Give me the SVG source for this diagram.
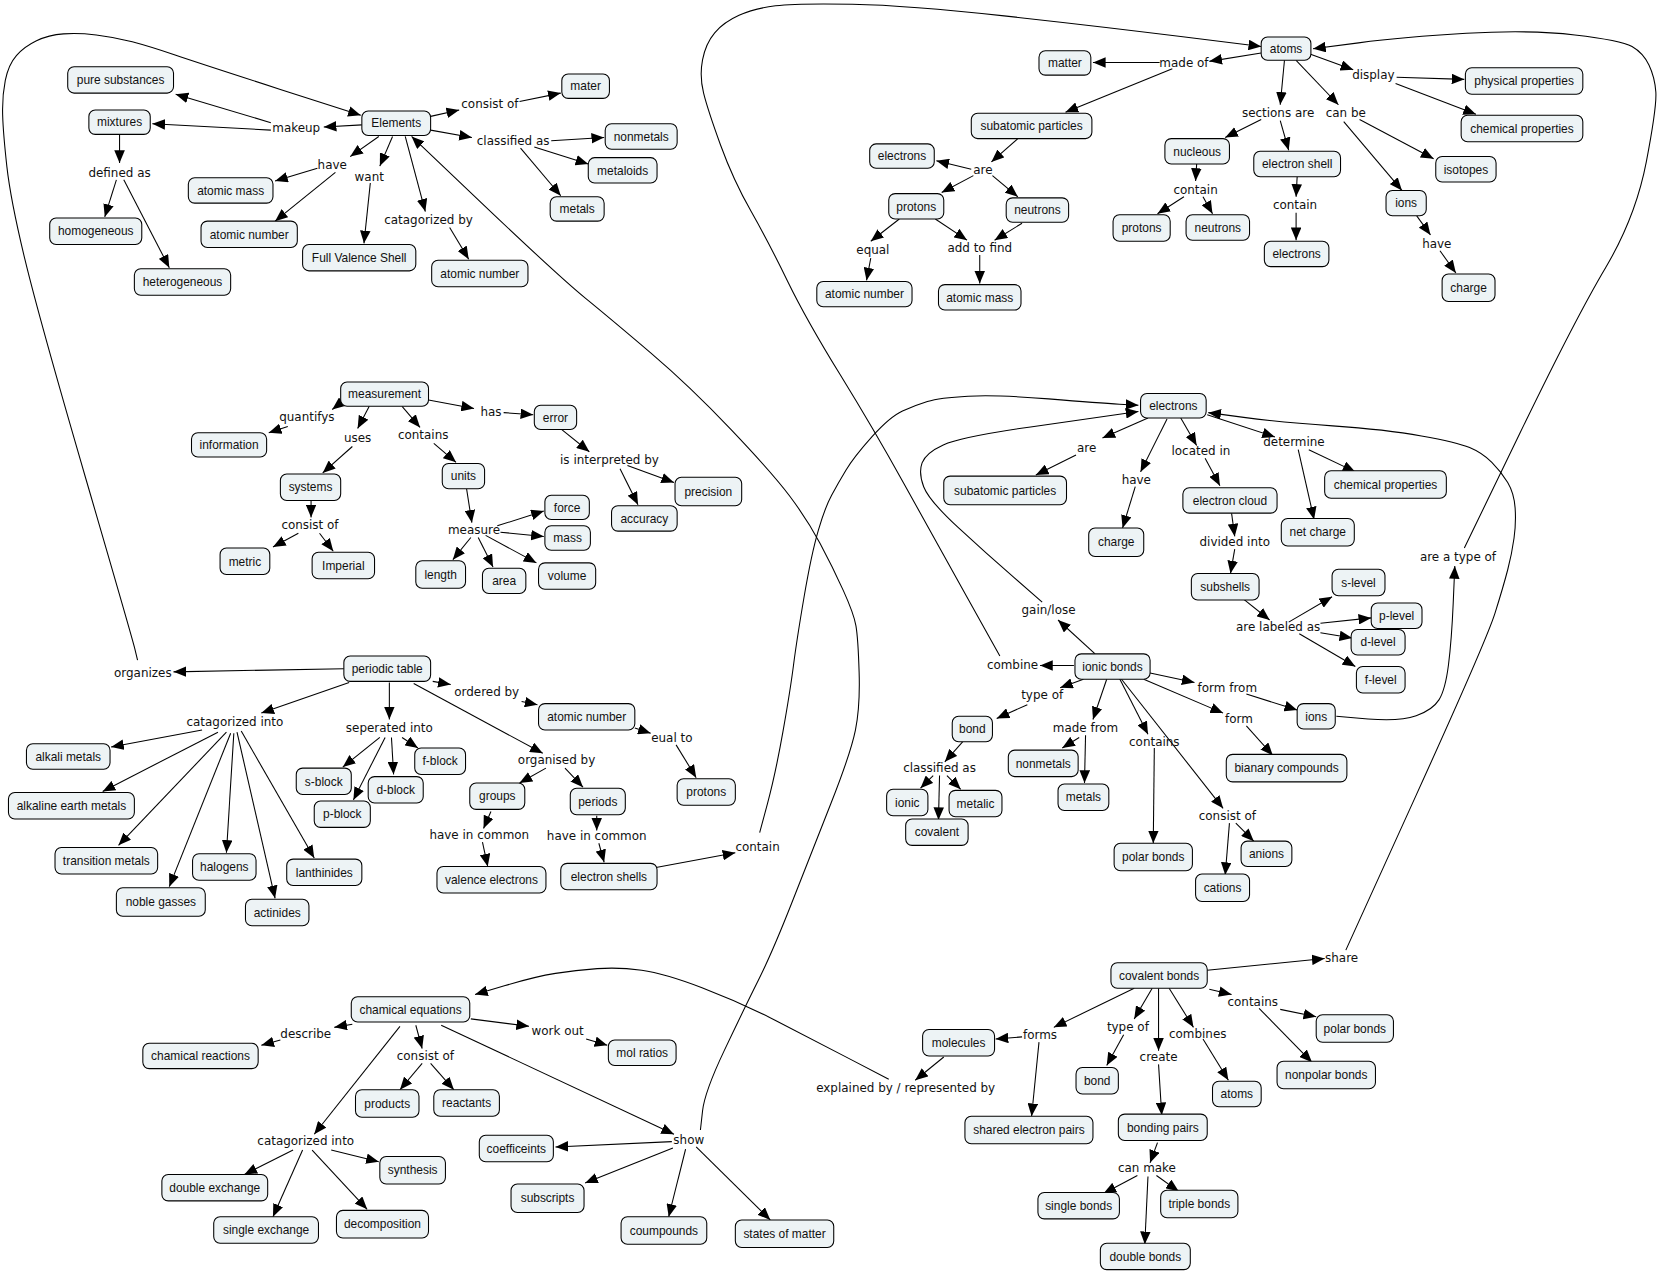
<svg xmlns="http://www.w3.org/2000/svg" width="1659" height="1272" viewBox="0 0 1659 1272">
<style>
.n rect{fill:#edf3f5;stroke:#000;stroke-width:1}
.n text{font-family:"Liberation Sans",Arial,sans-serif;font-size:11.3px;fill:#111;text-anchor:middle}
.l text{font-family:"DejaVu Sans",Verdana,sans-serif;font-size:11.3px;fill:#111;text-anchor:middle}
.c path{fill:none;stroke:#000;stroke-width:1;stroke-linejoin:round;marker-end:url(#a)}
</style>
<defs>
<marker id="a" markerUnits="userSpaceOnUse" markerWidth="12" markerHeight="10" refX="12" refY="5" orient="auto" viewBox="0 0 12 10"><path d="M0,0 L12,5 L0,10 z" fill="#000"/></marker>
</defs>
<rect width="1659" height="1272" fill="#fff"/>
<g transform="scale(1.05804)">
<g id="connectors" class="c">
<path d="M342,118 L306,120"/>
<path d="M256,116 L166,89"/>
<path d="M256,123 L144,117"/>
<path d="M407,110 L434,104"/>
<path d="M491,96 L530,88"/>
<path d="M407,123 L446,130"/>
<path d="M521,133 L571,130"/>
<path d="M505,139 L556,155"/>
<path d="M492,140 L530,185"/>
<path d="M358,129 L331,148"/>
<path d="M300,159 L260,171"/>
<path d="M317,163 L260,209"/>
<path d="M371,129 L359,157"/>
<path d="M350,173 L344,230"/>
<path d="M383,129 L402,200"/>
<path d="M425,215 L443,245"/>
<path d="M113,127 L113,154"/>
<path d="M110,170 L99,205"/>
<path d="M117,170 L160,253"/>
<path d="M1192,50 L1143,58"/>
<path d="M1096,59 L1033,59"/>
<path d="M1108,65 L1007,106"/>
<path d="M962,131 L937,153"/>
<path d="M918,160 L885,152"/>
<path d="M920,166 L890,182"/>
<path d="M938,166 L962,186"/>
<path d="M850,207 L823,228"/>
<path d="M823,244 L819,265"/>
<path d="M884,207 L914,227"/>
<path d="M966,211 L940,227"/>
<path d="M926,241 L926,268"/>
<path d="M1238,51 L1279,66"/>
<path d="M1320,73 L1384,75"/>
<path d="M1319,79 L1395,108"/>
<path d="M1214,57 L1210,99"/>
<path d="M1192,113 L1158,130"/>
<path d="M1210,114 L1218,142"/>
<path d="M1225,57 L1265,99"/>
<path d="M1285,113 L1355,150"/>
<path d="M1270,115 L1325,180"/>
<path d="M1131,155 L1130,171"/>
<path d="M1119,186 L1094,202"/>
<path d="M1137,186 L1146,202"/>
<path d="M1226,167 L1225,186"/>
<path d="M1225,201 L1225,227"/>
<path d="M1339,204 L1352,222"/>
<path d="M1361,237 L1376,258"/>
<path d="M323,380 L314,387"/>
<path d="M272,403 L254,409"/>
<path d="M349,384 L338,405"/>
<path d="M333,422 L305,447"/>
<path d="M380,384 L397,404"/>
<path d="M410,419 L431,437"/>
<path d="M405,378 L448,386"/>
<path d="M476,390 L504,392"/>
<path d="M531,406 L557,427"/>
<path d="M593,440 L637,456"/>
<path d="M586,443 L603,477"/>
<path d="M294,473 L294,489"/>
<path d="M282,504 L258,517"/>
<path d="M302,504 L315,521"/>
<path d="M441,462 L446,494"/>
<path d="M470,497 L514,483"/>
<path d="M473,503 L514,507"/>
<path d="M445,508 L428,529"/>
<path d="M452,508 L466,536"/>
<path d="M459,506 L507,532"/>
<path d="M325,632 L164,635"/>
<path d="M330,645 L247,674"/>
<path d="M191,690 L105,706"/>
<path d="M206,692 L97,748"/>
<path d="M214,692 L112,799"/>
<path d="M218,693 L160,838"/>
<path d="M221,693 L214,806"/>
<path d="M224,692 L260,849"/>
<path d="M228,691 L297,811"/>
<path d="M368,645 L368,680"/>
<path d="M359,697 L324,725"/>
<path d="M364,697 L334,756"/>
<path d="M370,697 L372,732"/>
<path d="M380,697 L395,707"/>
<path d="M409,644 L426,647"/>
<path d="M493,663 L508,666"/>
<path d="M391,646 L513,712"/>
<path d="M516,726 L491,740"/>
<path d="M534,726 L551,744"/>
<path d="M600,688 L615,693"/>
<path d="M639,704 L658,735"/>
<path d="M464,767 L457,783"/>
<path d="M456,796 L461,819"/>
<path d="M564,771 L564,785"/>
<path d="M566,797 L571,815"/>
<path d="M620,820 L695,806"/>
<path d="M1085,395 L1042,414"/>
<path d="M1017,430 L979,449"/>
<path d="M1103,396 L1078,446"/>
<path d="M1073,460 L1061,499"/>
<path d="M1116,395 L1131,421"/>
<path d="M1139,433 L1153,459"/>
<path d="M1141,392 L1205,413"/>
<path d="M1237,425 L1281,446"/>
<path d="M1227,425 L1242,491"/>
<path d="M1164,485 L1167,507"/>
<path d="M1167,519 L1163,542"/>
<path d="M1175,566 L1200,586"/>
<path d="M1218,588 L1259,564"/>
<path d="M1248,589 L1296,584"/>
<path d="M1248,598 L1278,603"/>
<path d="M1228,599 L1281,630"/>
<path d="M1035,618 L1000,586"/>
<path d="M1015,629 L983,629"/>
<path d="M1024,642 L1002,650"/>
<path d="M971,666 L942,679"/>
<path d="M910,701 L893,720"/>
<path d="M882,733 L870,745"/>
<path d="M888,733 L887,775"/>
<path d="M895,733 L908,746"/>
<path d="M1046,642 L1033,680"/>
<path d="M1020,697 L1004,707"/>
<path d="M1026,695 L1025,740"/>
<path d="M1058,641 L1085,694"/>
<path d="M1091,707 L1090,797"/>
<path d="M1060,642 L1156,764"/>
<path d="M1168,778 L1185,795"/>
<path d="M1162,778 L1158,827"/>
<path d="M1087,636 L1129,645"/>
<path d="M1178,656 L1226,671"/>
<path d="M1081,642 L1156,674"/>
<path d="M1178,686 L1203,714"/>
<path d="M1141,917 L1252,906"/>
<path d="M1143,935 L1164,940"/>
<path d="M1210,954 L1244,961"/>
<path d="M1190,953 L1240,1004"/>
<path d="M1089,934 L1072,963"/>
<path d="M1062,978 L1046,1007"/>
<path d="M1095,934 L1095,993"/>
<path d="M1095,1006 L1098,1054"/>
<path d="M1105,934 L1128,971"/>
<path d="M1137,982 L1161,1021"/>
<path d="M1094,1080 L1087,1099"/>
<path d="M1075,1111 L1043,1128"/>
<path d="M1093,1111 L1114,1126"/>
<path d="M1085,1112 L1082,1176"/>
<path d="M1072,934 L996,971"/>
<path d="M966,980 L941,982"/>
<path d="M982,985 L975,1055"/>
<path d="M892,999 L865,1021"/>
<path d="M333,968 L316,971"/>
<path d="M265,983 L247,988"/>
<path d="M393,969 L399,991"/>
<path d="M399,1005 L378,1030"/>
<path d="M407,1005 L429,1030"/>
<path d="M445,963 L500,970"/>
<path d="M554,982 L574,988"/>
<path d="M378,970 L297,1072"/>
<path d="M277,1087 L231,1110"/>
<path d="M286,1087 L258,1150"/>
<path d="M295,1087 L347,1143"/>
<path d="M313,1087 L358,1098"/>
<path d="M417,969 L637,1072"/>
<path d="M635,1079 L525,1084"/>
<path d="M636,1085 L553,1118"/>
<path d="M648,1086 L632,1150"/>
<path d="M658,1084 L728,1153"/>
<path d="M130,624 L127.5,613.5 Q125,603 81,452 Q37,301 23.5,245 Q10,189 6.5,157.5 Q3,126 2.5,108.5 Q2,91 5,76 Q8,61 15.5,52.5 Q23,44 34.5,38.5 Q46,33 60,32 Q74,31 91,33 Q108,35 125,39.5 Q142,44 165.5,52 Q189,60 265,84.5 L341,109"/>
<path d="M662,1068 L664,1050 Q666,1032 684.5,993 Q703,954 716.5,927 Q730,900 748.5,853 Q767,806 785.5,759 Q804,712 808.5,690 Q813,668 812,635.5 Q811,603 809,591.5 Q807,580 797,558 Q787,536 775,513.5 Q763,491 746.5,469 Q730,447 691,406 Q652,365 615,333.5 Q578,302 553.5,282 Q529,262 459,195.5 L389,129"/>
<path d="M718,787 L725.5,759 Q733,731 740,691.5 Q747,652 750,628.5 Q753,605 760,564 Q767,523 773.5,501 Q780,479 786,468 Q792,457 799.5,444.5 Q807,432 824,413 Q841,394 853,388.5 Q865,383 876.5,379.5 Q888,376 915,374.5 Q942,373 991,377 Q1040,381 1058,382 L1076,383"/>
<path d="M985,569 L958.5,546 Q932,523 905,498 Q878,473 873,460 Q868,447 871.5,437.5 Q875,428 891.5,420.5 Q908,413 974,403.5 Q1040,394 1058,391.5 L1076,389"/>
<path d="M1272,898 L1338.5,751.5 Q1405,605 1413,579.5 Q1421,554 1425,538.5 Q1429,523 1431,508.5 Q1433,494 1432,480 Q1431,466 1425,456 Q1419,446 1410,437 Q1401,428 1389,423 Q1377,418 1343.5,412 Q1310,406 1259.5,402.5 Q1209,399 1175.5,394.5 L1142,390"/>
<path d="M945,620 L913.5,563.5 Q882,507 854,456.5 Q826,406 794,354 Q762,302 744.5,266 Q727,230 710,200 Q693,170 681,137 Q669,104 665,88 Q661,72 664,56.5 Q667,41 675.5,31 Q684,21 698.5,14.5 Q713,8 733,5.5 Q753,3 805.5,4 Q858,5 949,15 Q1040,25 1116,34.5 L1192,44"/>
<path d="M1384,518 L1436.5,409.5 Q1489,301 1517.5,253 Q1546,205 1556,153 Q1566,101 1565,87 Q1564,73 1558.5,61.5 Q1553,50 1542.5,44 Q1532,38 1488.5,33 Q1445,28 1386,31.5 Q1327,35 1284,40.5 L1241,46"/>
<path d="M1263,677 L1293,679.5 Q1323,682 1338.5,676.5 Q1354,671 1360,661.5 Q1366,652 1369,628.5 Q1372,605 1373.5,570 L1375,535"/>
<path d="M840,1020 L803.5,1001 Q767,982 733,964.5 Q699,947 663.5,933.5 Q628,920 606.5,917 Q585,914 564.5,915.5 Q544,917 525,920 Q506,923 477.5,931.5 L449,940"/>
</g>
<g id="link-labels" class="l">
<text x="280" y="125">makeup</text>
<text x="463" y="102">consist of</text>
<text x="485" y="137">classified as</text>
<text x="314" y="160">have</text>
<text x="349" y="171">want</text>
<text x="405" y="212">catagorized by</text>
<text x="113" y="167">defined as</text>
<text x="1119" y="63">made of</text>
<text x="929" y="164">are</text>
<text x="825" y="240">equal</text>
<text x="926" y="238">add to find</text>
<text x="1298" y="75">display</text>
<text x="1208" y="111">sections are</text>
<text x="1272" y="111">can be</text>
<text x="1130" y="183">contain</text>
<text x="1224" y="198">contain</text>
<text x="1358" y="234">have</text>
<text x="290" y="398">quantifys</text>
<text x="338" y="418">uses</text>
<text x="400" y="415">contains</text>
<text x="464" y="393">has</text>
<text x="576" y="439">is interpreted by</text>
<text x="293" y="500">consist of</text>
<text x="448" y="505">measure</text>
<text x="135" y="640">organizes</text>
<text x="460" y="658">ordered by</text>
<text x="635" y="701">eual to</text>
<text x="526" y="722">organised by</text>
<text x="453" y="793">have in common</text>
<text x="564" y="794">have in common</text>
<text x="716" y="804">contain</text>
<text x="222" y="686">catagorized into</text>
<text x="368" y="692">seperated into</text>
<text x="1027" y="427">are</text>
<text x="1074" y="457">have</text>
<text x="1135" y="430">located in</text>
<text x="1223" y="422">determine</text>
<text x="1167" y="516">divided into</text>
<text x="1208" y="596">are labeled as</text>
<text x="1378" y="530">are a type of</text>
<text x="991" y="580">gain/lose</text>
<text x="957" y="632">combine</text>
<text x="985" y="661">type of</text>
<text x="888" y="730">classified as</text>
<text x="1026" y="692">made from</text>
<text x="1091" y="705">contains</text>
<text x="1160" y="775">consist of</text>
<text x="1160" y="654">form from</text>
<text x="1171" y="683">form</text>
<text x="1268" y="909">share</text>
<text x="1184" y="951">contains</text>
<text x="1066" y="974">type of</text>
<text x="1095" y="1003">create</text>
<text x="1132" y="981">combines</text>
<text x="1084" y="1108">can make</text>
<text x="983" y="982">forms</text>
<text x="856" y="1032">explained by / represented by</text>
<text x="289" y="981">describe</text>
<text x="402" y="1002">consist of</text>
<text x="527" y="978">work out</text>
<text x="289" y="1082">catagorized into</text>
<text x="651" y="1081">show</text>
</g>
<g id="n-pure" class="n"><rect x="64" y="63" width="100" height="25" rx="6"/><text x="114" y="79.5">pure substances</text></g>
<g id="n-mixtures" class="n"><rect x="84" y="104" width="58" height="23" rx="6"/><text x="113" y="119.5">mixtures</text></g>
<g id="n-elements" class="n"><rect x="342" y="105" width="65" height="23" rx="6"/><text x="374.5" y="120.5">Elements</text></g>
<g id="n-mater" class="n"><rect x="531" y="70" width="45" height="23" rx="6"/><text x="553.5" y="85.5">mater</text></g>
<g id="n-nonmetals1" class="n"><rect x="572" y="117" width="68" height="24" rx="6"/><text x="606" y="133">nonmetals</text></g>
<g id="n-metaloids" class="n"><rect x="556" y="149" width="65" height="24" rx="6"/><text x="588.5" y="165">metaloids</text></g>
<g id="n-metals1" class="n"><rect x="520" y="186" width="51" height="23" rx="6"/><text x="545.5" y="201.5">metals</text></g>
<g id="n-atomicmass1" class="n"><rect x="178" y="168" width="80" height="24" rx="6"/><text x="218" y="184">atomic mass</text></g>
<g id="n-atomicnum1" class="n"><rect x="190" y="209" width="91" height="25" rx="6"/><text x="235.5" y="225.5">atomic number</text></g>
<g id="n-fvs" class="n"><rect x="286" y="231" width="107" height="25" rx="6"/><text x="339.5" y="247.5">Full Valence Shell</text></g>
<g id="n-atomicnum2" class="n"><rect x="408" y="246" width="91" height="25" rx="6"/><text x="453.5" y="262.5">atomic number</text></g>
<g id="n-homog" class="n"><rect x="47" y="206" width="87" height="25" rx="6"/><text x="90.5" y="222.5">homogeneous</text></g>
<g id="n-heterog" class="n"><rect x="127" y="254" width="91" height="25" rx="6"/><text x="172.5" y="270.5">heterogeneous</text></g>
<g id="n-matter" class="n"><rect x="982" y="48" width="49" height="23" rx="6"/><text x="1006.5" y="63.5">matter</text></g>
<g id="n-atoms1" class="n"><rect x="1192" y="35" width="47" height="22" rx="6"/><text x="1215.5" y="50">atoms</text></g>
<g id="n-subatomic1" class="n"><rect x="918" y="107" width="114" height="24" rx="6"/><text x="975" y="123">subatomic particles</text></g>
<g id="n-electrons1" class="n"><rect x="822" y="136" width="61" height="23" rx="6"/><text x="852.5" y="151.5">electrons</text></g>
<g id="n-protons1" class="n"><rect x="840" y="183" width="52" height="24" rx="6"/><text x="866" y="199">protons</text></g>
<g id="n-neutrons1" class="n"><rect x="951" y="187" width="59" height="23" rx="6"/><text x="980.5" y="202.5">neutrons</text></g>
<g id="n-atomicnum3" class="n"><rect x="772" y="266" width="90" height="24" rx="6"/><text x="817" y="282">atomic number</text></g>
<g id="n-atomicmass2" class="n"><rect x="887" y="269" width="78" height="24" rx="6"/><text x="926" y="285">atomic mass</text></g>
<g id="n-physprop" class="n"><rect x="1385" y="64" width="111" height="25" rx="6"/><text x="1440.5" y="80.5">physical properties</text></g>
<g id="n-chemprop1" class="n"><rect x="1381" y="109" width="115" height="25" rx="6"/><text x="1438.5" y="125.5">chemical properties</text></g>
<g id="n-nucleous" class="n"><rect x="1101" y="131" width="61" height="24" rx="6"/><text x="1131.5" y="147">nucleous</text></g>
<g id="n-eshell" class="n"><rect x="1185" y="143" width="82" height="24" rx="6"/><text x="1226" y="159">electron shell</text></g>
<g id="n-isotopes" class="n"><rect x="1357" y="148" width="57" height="24" rx="6"/><text x="1385.5" y="164">isotopes</text></g>
<g id="n-protons2" class="n"><rect x="1052" y="203" width="54" height="25" rx="6"/><text x="1079" y="219.5">protons</text></g>
<g id="n-neutrons2" class="n"><rect x="1121" y="203" width="60" height="24" rx="6"/><text x="1151" y="219">neutrons</text></g>
<g id="n-electrons2" class="n"><rect x="1195" y="228" width="61" height="24" rx="6"/><text x="1225.5" y="244">electrons</text></g>
<g id="n-ions1" class="n"><rect x="1310" y="180" width="38" height="24" rx="6"/><text x="1329" y="196">ions</text></g>
<g id="n-charge1" class="n"><rect x="1363" y="259" width="50" height="26" rx="6"/><text x="1388" y="276">charge</text></g>
<g id="n-measurement" class="n"><rect x="322" y="361" width="83" height="23" rx="6"/><text x="363.5" y="376.5">measurement</text></g>
<g id="n-information" class="n"><rect x="181" y="409" width="71" height="23" rx="6"/><text x="216.5" y="424.5">information</text></g>
<g id="n-error" class="n"><rect x="505" y="383" width="40" height="23" rx="6"/><text x="525" y="398.5">error</text></g>
<g id="n-precision" class="n"><rect x="638" y="451" width="63" height="27" rx="6"/><text x="669.5" y="468.5">precision</text></g>
<g id="n-accuracy" class="n"><rect x="578" y="478" width="62" height="24" rx="6"/><text x="609" y="494">accuracy</text></g>
<g id="n-systems" class="n"><rect x="265" y="448" width="57" height="25" rx="6"/><text x="293.5" y="464.5">systems</text></g>
<g id="n-metric" class="n"><rect x="208" y="518" width="47" height="25" rx="6"/><text x="231.5" y="534.5">metric</text></g>
<g id="n-imperial" class="n"><rect x="295" y="522" width="59" height="25" rx="6"/><text x="324.5" y="538.5">Imperial</text></g>
<g id="n-units" class="n"><rect x="418" y="438" width="40" height="24" rx="6"/><text x="438" y="454">units</text></g>
<g id="n-force" class="n"><rect x="515" y="468" width="42" height="23" rx="6"/><text x="536" y="483.5">force</text></g>
<g id="n-mass" class="n"><rect x="515" y="497" width="43" height="23" rx="6"/><text x="536.5" y="512.5">mass</text></g>
<g id="n-length" class="n"><rect x="393" y="530" width="47" height="26" rx="6"/><text x="416.5" y="547">length</text></g>
<g id="n-area" class="n"><rect x="456" y="537" width="41" height="24" rx="6"/><text x="476.5" y="553">area</text></g>
<g id="n-volume" class="n"><rect x="509" y="532" width="54" height="25" rx="6"/><text x="536" y="548.5">volume</text></g>
<g id="n-periodic" class="n"><rect x="325" y="620" width="82" height="24" rx="6"/><text x="366" y="636">periodic table</text></g>
<g id="n-atomicnum4" class="n"><rect x="509" y="665" width="91" height="25" rx="6"/><text x="554.5" y="681.5">atomic number</text></g>
<g id="n-protons3" class="n"><rect x="640" y="736" width="55" height="25" rx="6"/><text x="667.5" y="752.5">protons</text></g>
<g id="n-groups" class="n"><rect x="444" y="740" width="52" height="25" rx="6"/><text x="470" y="756.5">groups</text></g>
<g id="n-periods" class="n"><rect x="539" y="745" width="52" height="25" rx="6"/><text x="565" y="761.5">periods</text></g>
<g id="n-valence" class="n"><rect x="413" y="819" width="103" height="25" rx="6"/><text x="464.5" y="835.5">valence electrons</text></g>
<g id="n-eshells" class="n"><rect x="530" y="816" width="91" height="25" rx="6"/><text x="575.5" y="832.5">electron shells</text></g>
<g id="n-alkali" class="n"><rect x="25" y="703" width="79" height="24" rx="6"/><text x="64.5" y="719">alkali metals</text></g>
<g id="n-alkaline" class="n"><rect x="8" y="749" width="119" height="25" rx="6"/><text x="67.5" y="765.5">alkaline earth metals</text></g>
<g id="n-transition" class="n"><rect x="52" y="801" width="97" height="25" rx="6"/><text x="100.5" y="817.5">transition metals</text></g>
<g id="n-noble" class="n"><rect x="110" y="839" width="84" height="27" rx="6"/><text x="152" y="856.5">noble gasses</text></g>
<g id="n-halogens" class="n"><rect x="182" y="807" width="60" height="25" rx="6"/><text x="212" y="823.5">halogens</text></g>
<g id="n-actinides" class="n"><rect x="232" y="850" width="60" height="25" rx="6"/><text x="262" y="866.5">actinides</text></g>
<g id="n-lanth" class="n"><rect x="271" y="812" width="71" height="25" rx="6"/><text x="306.5" y="828.5">lanthinides</text></g>
<g id="n-sblock" class="n"><rect x="280" y="726" width="52" height="25" rx="6"/><text x="306" y="742.5">s-block</text></g>
<g id="n-pblock" class="n"><rect x="297" y="757" width="53" height="25" rx="6"/><text x="323.5" y="773.5">p-block</text></g>
<g id="n-dblock" class="n"><rect x="348" y="734" width="52" height="25" rx="6"/><text x="374" y="750.5">d-block</text></g>
<g id="n-fblock" class="n"><rect x="392" y="707" width="48" height="25" rx="6"/><text x="416" y="723.5">f-block</text></g>
<g id="n-electrons3" class="n"><rect x="1078" y="372" width="62" height="23" rx="6"/><text x="1109" y="387.5">electrons</text></g>
<g id="n-subatomic2" class="n"><rect x="892" y="450" width="116" height="27" rx="6"/><text x="950" y="467.5">subatomic particles</text></g>
<g id="n-charge2" class="n"><rect x="1029" y="499" width="52" height="27" rx="6"/><text x="1055" y="516.5">charge</text></g>
<g id="n-ecloud" class="n"><rect x="1118" y="461" width="89" height="24" rx="6"/><text x="1162.5" y="477">electron cloud</text></g>
<g id="n-chemprop2" class="n"><rect x="1252" y="445" width="115" height="26" rx="6"/><text x="1309.5" y="462">chemical properties</text></g>
<g id="n-netcharge" class="n"><rect x="1211" y="490" width="69" height="26" rx="6"/><text x="1245.5" y="507">net charge</text></g>
<g id="n-subshells" class="n"><rect x="1126" y="542" width="64" height="25" rx="6"/><text x="1158" y="558.5">subshells</text></g>
<g id="n-slevel" class="n"><rect x="1259" y="538" width="50" height="25" rx="6"/><text x="1284" y="554.5">s-level</text></g>
<g id="n-plevel" class="n"><rect x="1296" y="570" width="48" height="24" rx="6"/><text x="1320" y="586">p-level</text></g>
<g id="n-dlevel" class="n"><rect x="1277" y="595" width="51" height="24" rx="6"/><text x="1302.5" y="611">d-level</text></g>
<g id="n-flevel" class="n"><rect x="1282" y="630" width="46" height="25" rx="6"/><text x="1305" y="646.5">f-level</text></g>
<g id="n-ionic" class="n"><rect x="1016" y="618" width="71" height="24" rx="6"/><text x="1051.5" y="634">ionic bonds</text></g>
<g id="n-bond1" class="n"><rect x="900" y="677" width="38" height="24" rx="6"/><text x="919" y="693">bond</text></g>
<g id="n-ionicn" class="n"><rect x="838" y="746" width="39" height="25" rx="6"/><text x="857.5" y="762.5">ionic</text></g>
<g id="n-covalentn" class="n"><rect x="856" y="774" width="59" height="25" rx="6"/><text x="885.5" y="790.5">covalent</text></g>
<g id="n-metalic" class="n"><rect x="897" y="747" width="50" height="25" rx="6"/><text x="922" y="763.5">metalic</text></g>
<g id="n-nonmetals2" class="n"><rect x="953" y="709" width="66" height="25" rx="6"/><text x="986" y="725.5">nonmetals</text></g>
<g id="n-metals2" class="n"><rect x="1000" y="741" width="48" height="25" rx="6"/><text x="1024" y="757.5">metals</text></g>
<g id="n-polar1" class="n"><rect x="1053" y="797" width="74" height="26" rx="6"/><text x="1090" y="814">polar bonds</text></g>
<g id="n-anions" class="n"><rect x="1173" y="795" width="48" height="24" rx="6"/><text x="1197" y="811">anions</text></g>
<g id="n-cations" class="n"><rect x="1130" y="826" width="51" height="26" rx="6"/><text x="1155.5" y="843">cations</text></g>
<g id="n-ions2" class="n"><rect x="1226" y="665" width="36" height="24" rx="6"/><text x="1244" y="681">ions</text></g>
<g id="n-binary" class="n"><rect x="1159" y="713" width="114" height="26" rx="6"/><text x="1216" y="730">bianary compounds</text></g>
<g id="n-covbonds" class="n"><rect x="1050" y="910" width="91" height="24" rx="6"/><text x="1095.5" y="926">covalent bonds</text></g>
<g id="n-polar2" class="n"><rect x="1244" y="959" width="73" height="26" rx="6"/><text x="1280.5" y="976">polar bonds</text></g>
<g id="n-nonpolar" class="n"><rect x="1207" y="1003" width="93" height="26" rx="6"/><text x="1253.5" y="1020">nonpolar bonds</text></g>
<g id="n-bond2" class="n"><rect x="1017" y="1009" width="40" height="25" rx="6"/><text x="1037" y="1025.5">bond</text></g>
<g id="n-atoms2" class="n"><rect x="1146" y="1022" width="46" height="24" rx="6"/><text x="1169" y="1038">atoms</text></g>
<g id="n-bpairs" class="n"><rect x="1057" y="1053" width="84" height="25" rx="6"/><text x="1099" y="1069.5">bonding pairs</text></g>
<g id="n-single" class="n"><rect x="981" y="1127" width="77" height="25" rx="6"/><text x="1019.5" y="1143.5">single bonds</text></g>
<g id="n-triple" class="n"><rect x="1097" y="1125" width="73" height="26" rx="6"/><text x="1133.5" y="1142">triple bonds</text></g>
<g id="n-double" class="n"><rect x="1040" y="1175" width="85" height="25" rx="6"/><text x="1082.5" y="1191.5">double bonds</text></g>
<g id="n-molecules" class="n"><rect x="872" y="973" width="68" height="25" rx="6"/><text x="906" y="989.5">molecules</text></g>
<g id="n-sep" class="n"><rect x="912" y="1055" width="121" height="26" rx="6"/><text x="972.5" y="1072">shared electron pairs</text></g>
<g id="n-chemeq" class="n"><rect x="332" y="942" width="112" height="24" rx="6"/><text x="388" y="958">chamical equations</text></g>
<g id="n-chemreact" class="n"><rect x="135" y="986" width="109" height="24" rx="6"/><text x="189.5" y="1002">chamical reactions</text></g>
<g id="n-products" class="n"><rect x="336" y="1030" width="60" height="26" rx="6"/><text x="366" y="1047">products</text></g>
<g id="n-reactants" class="n"><rect x="410" y="1030" width="62" height="25" rx="6"/><text x="441" y="1046.5">reactants</text></g>
<g id="n-molratios" class="n"><rect x="575" y="983" width="64" height="24" rx="6"/><text x="607" y="999">mol ratios</text></g>
<g id="n-doubleex" class="n"><rect x="153" y="1110" width="100" height="25" rx="6"/><text x="203" y="1126.5">double exchange</text></g>
<g id="n-singleex" class="n"><rect x="202" y="1150" width="99" height="25" rx="6"/><text x="251.5" y="1166.5">single exchange</text></g>
<g id="n-decomp" class="n"><rect x="318" y="1144" width="87" height="26" rx="6"/><text x="361.5" y="1161">decomposition</text></g>
<g id="n-synthesis" class="n"><rect x="359" y="1093" width="62" height="26" rx="6"/><text x="390" y="1110">synthesis</text></g>
<g id="n-coeff" class="n"><rect x="453" y="1073" width="70" height="25" rx="6"/><text x="488" y="1089.5">coefficeints</text></g>
<g id="n-subscripts" class="n"><rect x="483" y="1119" width="69" height="27" rx="6"/><text x="517.5" y="1136.5">subscripts</text></g>
<g id="n-coumpounds" class="n"><rect x="587" y="1150" width="81" height="26" rx="6"/><text x="627.5" y="1167">coumpounds</text></g>
<g id="n-states" class="n"><rect x="695" y="1153" width="93" height="26" rx="6"/><text x="741.5" y="1170">states of matter</text></g>
</g>
</svg>
